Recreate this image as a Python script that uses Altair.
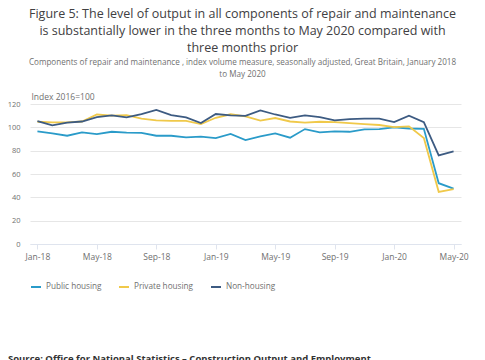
import altair as alt
import pandas as pd

months = ["Jan-18", "Feb-18", "Mar-18", "Apr-18", "May-18", "Jun-18", "Jul-18", "Aug-18",
          "Sep-18", "Oct-18", "Nov-18", "Dec-18", "Jan-19", "Feb-19", "Mar-19", "Apr-19",
          "May-19", "Jun-19", "Jul-19", "Aug-19", "Sep-19", "Oct-19", "Nov-19", "Dec-19",
          "Jan-20", "Feb-20", "Mar-20", "Apr-20", "May-20"]

public_housing = [96.5, 94.8, 92.8, 95.6, 94.2, 96.2, 95.5, 95.2, 92.8, 92.8, 91.4, 92.0,
                  90.8, 94.3, 89.0, 92.2, 94.8, 91.1, 98.5, 95.6, 96.5, 96.2, 98.2, 98.5,
                  99.9, 99.0, 98.7, 52.1, 47.5]
private_housing = [104.8, 104.2, 104.2, 105.0, 111.0, 110.0, 110.5, 107.4, 106.0, 105.5, 105.5,
                   102.8, 108.2, 111.2, 109.4, 105.7, 108.0, 105.0, 104.0, 104.8, 104.5, 103.6,
                   102.8, 102.0, 100.2, 100.8, 90.8, 44.7, 47.0]
non_housing = [105.4, 101.7, 104.0, 105.0, 108.8, 110.2, 108.5, 111.4, 114.9, 110.5, 108.5,
               103.7, 111.4, 110.2, 109.9, 114.5, 111.0, 108.2, 110.2, 108.8, 106.0, 107.1,
               107.4, 107.4, 104.5, 110.0, 104.5, 75.9, 79.3]

series_names = ["Public housing", "Private housing", "Non-housing"]
series_colors = ["#2a9bc9", "#f0c94a", "#3d5b82"]
tick_labels = ["Jan-18", "May-18", "Sep-18", "Jan-19", "May-19", "Sep-19", "Jan-20", "May-20"]

rows = []
for name, vals in zip(series_names, [public_housing, private_housing, non_housing]):
    for m, v in zip(months, vals):
        rows.append({"month": m, "value": v, "series": name})
df = pd.DataFrame(rows)

title_lines = ["Figure 5: The level of output in all components of repair and maintenance",
               "is substantially lower in the three months to May 2020 compared with",
               "three months prior"]
subtitle_lines = ["Components of repair and maintenance , index volume measure, seasonally adjusted, Great Britain, January 2018",
                  "to May 2020"]
source_text = "Source: Office for National Statistics \u2013 Construction Output and Employment"

lines = alt.Chart(df).mark_line(strokeWidth=1.8).encode(
    x=alt.X("month:O", sort=months,
            scale=alt.Scale(type="point", padding=0.5),
            axis=alt.Axis(values=tick_labels, labelAngle=0, title=None,
                          domainColor="#dfe4ee", tickColor="#dfe4ee", tickSize=5,
                          labelColor="#707070", labelFontSize=8.5, labelPadding=3,
                          labelFont="Open Sans", grid=False)),
    y=alt.Y("value:Q", scale=alt.Scale(domain=[0, 120], nice=False),
            axis=alt.Axis(values=[0, 20, 40, 60, 80, 100, 120], title="Index 2016=100",
                          titleAngle=0, titleX=1, titleY=-5, titleAlign="left",
                          titleBaseline="alphabetic", titleFont="Open Sans",
                          titleFontSize=8.5, titleFontWeight="normal", titleColor="#707070",
                          domain=False, ticks=False, labelPadding=10,
                          labelColor="#707070", labelFontSize=7.5, labelFont="Open Sans",
                          gridColor="#e6e6e6")),
    color=alt.Color("series:N", sort=series_names,
                    scale=alt.Scale(domain=series_names, range=series_colors),
                    legend=alt.Legend(title=None, orient="none", legendX=0, legendY=177,
                                      direction="horizontal", symbolType="stroke",
                                      symbolStrokeWidth=2, symbolSize=100,
                                      labelFont="Open Sans", labelFontSize=8.2,
                                      labelColor="#707070", columnPadding=13)),
    order=alt.Order("series:N"),
)

source = alt.Chart(pd.DataFrame({"t": [source_text]})).mark_text(
    align="left", baseline="alphabetic", font="Open Sans", fontSize=9.5,
    fontWeight="bold", color="#333333"
).encode(x=alt.value(-22), y=alt.value(258), text="t:N")

chart = alt.layer(lines, source).properties(
    width=431, height=140,
    padding={"left": 22, "top": 96, "right": 16, "bottom": 116},
    autosize=alt.AutoSizeParams(type="none"),
    title=alt.TitleParams(text=title_lines, subtitle=subtitle_lines, anchor="middle",
                          font="Open Sans", fontSize=12.5, fontWeight="normal",
                          color="#414042", lineHeight=17, subtitleFont="Open Sans",
                          subtitleFontSize=8.1, subtitleColor="#707070",
                          subtitleLineHeight=12, subtitlePadding=4, offset=13, dx=-3),
).configure_view(stroke=None)

chart.save("out.html", embed_options={"renderer": "svg", "actions": False})
